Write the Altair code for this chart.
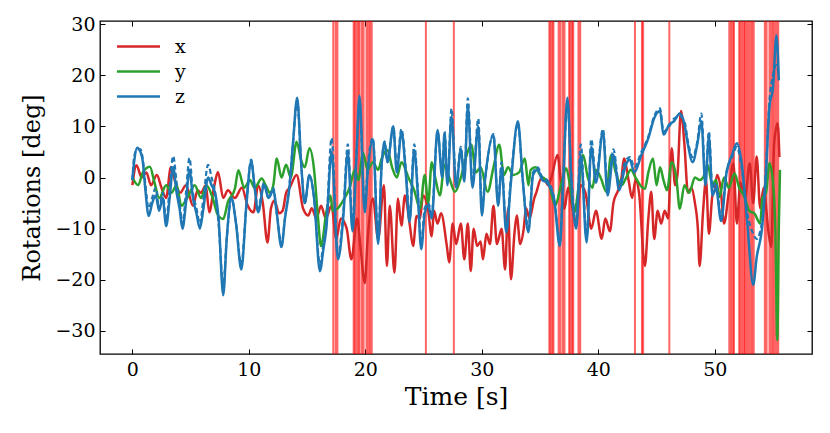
import altair as alt
import pandas as pd

# ---------------- data ----------------
z_t = [0, 0.15, 0.4, 0.7, 0.9, 1.1, 1.4, 1.7, 2.0, 2.3, 2.6, 2.9, 3.2, 3.5, 3.8, 4.05, 4.3, 4.6, 4.9, 5.2,
       5.5, 5.8, 6.1, 6.5, 6.8, 7.1, 7.4, 7.8, 8.1, 8.5, 8.9, 9.35, 9.8, 10.2, 10.5, 10.8, 11.3, 11.7, 12.1, 12.4,
       12.8, 13.1, 13.5, 13.8, 14.15, 14.5, 14.8, 15.2, 15.6, 16.1, 16.4, 16.65, 17.1, 17.65, 18.1, 18.5, 18.9, 19.2, 19.5, 19.95,
       20.2, 20.65, 21.1, 21.4, 21.65, 21.9, 22.4, 22.7, 23.1, 23.5, 23.8, 24.2, 24.5, 24.8, 25.1, 25.4, 25.7, 26.2, 26.6, 26.8,
       27.05, 27.4, 27.8, 28.2, 28.5, 28.8, 29.2, 29.7, 30.0, 30.3, 31.0, 31.4, 31.7, 32.1, 32.5, 33.1, 33.5, 34.0, 34.4, 34.8,
       35.2, 35.6, 36.2, 36.7, 36.95, 37.35, 37.7, 38.1, 38.5, 39.0, 39.4, 39.8, 40.4, 40.8, 41.3, 41.8, 42.3, 42.7, 43.1, 43.7,
       44.3, 44.8, 45.3, 45.6, 46.1, 46.5, 47.0, 47.4, 47.7, 48.1, 48.5, 48.85, 49.2, 49.5, 49.8, 50.1, 50.55, 51.0, 51.5, 51.9,
       52.3, 52.8, 53.3, 53.6, 54.1, 54.4, 54.7, 55.0, 55.3, 55.5]
z_v = [-0.5, 3, 5.8, 5.0, 3, -2, -7.5, -5, -3.5, -6.5, -4, -9.5, -4, 2, -3, -6, -10, -5, 1.5, -4,
       -7, -10, -6, 0, -1.5, -3, -8, -23, -12, -4, -9, -18, -5, 3.2, -2, -6.8, -1.5, -4, -2.5, -7,
       -13.6, -8, -1.6, 7, 15.6, 2.4, -5, 0.5, -4, -18.3, -14, -10, 5, -16, -8, 5, -10.5, 2, 16, -6.8,
       1, 7.5, -13, 2.4, 7, 3, 10, 1, 9, 0, -8.7, 5.4, -3, -14, -7, -5.4, -8, 9.3, 0, 8.7,
       -1.5, 12, -2, 5.6, -0.8, 14, -2, 10, -7.4, 0, 8.3, -5.5, 2, -10.7, -1, 11, 0, -10.7, 0.5, 1.5,
       -0.5, -1, -4.1, -13.4, -3, 15.6, -1, -10, 4.4, -12.7, 6, -1, 9, -3.5, 4.4, -2.5, 2, 3.5, 1, 4.4,
       7.7, 11.6, 13, 8.4, 10.4, 11, 12.5, 10.4, 6.4, 3, 6.5, 11, -1.5, 8, -3.5, -2, -8.5, 0.8, 4.5, 6.7,
       3, -9, -21, -15.6, -9, 1, 14, 17.5, 27.8, 19]
# dashed z (second estimate), same instants
z_dash_v = [-0.5, 4, 5.5, 5.5, 3.5, -1, -6, -4, -2, -6, -3, -8.5, -2, 4.2, -1, -5, -9, -3, 3.8, -3,
            -6, -9, -4, 2.5, 0, -3, -9, -21, -12, -4, -9, -17, -5, 3.5, -2, -6, -1, -4, -2, -7,
            -13, -8, -1, 7, 15, 2.4, -5, 0.5, -4, -17, -13, -9, 7.7, -15, -7, 6.5, -9, 3, 14, -6,
            2, 7.7, -12, 2.4, 7, 3, 10, 2, 9.5, 1, -8, 6.5, -2, -13, -6, -5, -7, 9, 1, 9,
            -1, 13.5, -1, 6, 0, 15.5, -1, 11.5, -6, 0, 8.5, -5, 3, -10, 0, 10.5, 0, -10, 1, 2,
            0, -0.5, -4, -12.5, -2, 14.5, 0, -9, 6.5, -12, 7.5, 0, 9.5, -2, 5.5, -1.5, 3, 4, 2, 5,
            8, 12, 13.5, 9, 10, 11.5, 12, 11, 7, 4, 7, 12.5, 0, 9, -2, -1, -8, 1, 4, 6,
            2, -7, -11, -12, -8, 2, 15, 20, 22, 20]

x_t = [0, 0.35, 0.8, 1.2, 1.6, 2.1, 2.5, 2.9, 3.3, 3.7, 4.1, 4.6, 5.2, 5.6, 5.9, 6.3, 6.6, 7.0, 7.35, 7.8,
       8.2, 8.8, 9.4, 9.9, 10.4, 10.8, 11.2, 11.6, 11.9, 12.2, 12.6, 12.9, 13.2, 13.5, 14.1, 14.65, 15.1, 15.4, 15.8, 16.2,
       16.6, 17.1, 17.5, 17.9, 18.4, 18.8, 19.3, 19.6, 19.95, 20.2, 20.65, 21.1, 21.6, 21.85, 22.1, 22.5, 22.8, 23.1, 23.4, 23.8,
       24.1, 24.4, 24.7, 24.95, 25.4, 25.7, 25.9, 26.2, 26.5, 27.0, 27.2, 27.5, 27.8, 28.2, 28.5, 28.8, 29.05, 29.3, 29.6, 29.9,
       30.1, 30.4, 30.7, 31.0, 31.3, 31.7, 32.0, 32.25, 32.5, 32.8, 33.0, 33.3, 33.6, 33.8, 34.1, 34.5, 34.7, 35.1, 35.4, 35.7,
       36.0, 36.5, 36.8, 37.1, 37.4, 37.7, 38.1, 38.5, 38.9, 39.4, 39.8, 40.3, 40.6, 41.0, 41.3, 41.7, 42.0, 42.2, 42.6, 42.9,
       43.2, 43.5, 44.0, 44.3, 44.55, 44.8, 45.1, 45.4, 45.7, 46.0, 46.3, 46.6, 46.8, 47.1, 47.4, 47.7, 48.0, 48.3, 48.55, 48.7,
       49.0, 49.25, 49.5, 49.8, 50.0, 50.2, 50.5, 50.8, 51.2, 51.6, 51.9, 52.2, 52.6, 53.0, 53.3, 53.6, 53.9, 54.2, 54.6, 54.85,
       55.1, 55.4, 55.55]
x_v = [-1.5, 2.4, 0, 1, -1.5, 0.5, -2, -4, 2, -1, -3, -1.5, -5.5, -2.5, -3, -1.5, -6.8, -2, 1.1, -4,
       -2.5, -4, -2, -5.5, -6.8, -1.5, -5, -12.7, -6, -4.5, -7, -6.5, -3, -2, 0.5, -6, -7.4, -6, -8, -5.5,
       -8, -5.5, -12, -8, -10, -16, -8, -14, -20.6, -12, -4.1, -12, -1.5, -17.3, -5.5, -18.6, -4.1, -9.4, -3.5, -9,
       -13.4, -7.5, -8, -3.5, -6.5, -11.5, -6.5, -9, -7, -13.4, -16.6, -9, -13, -9, -16, -9, -18.3, -10, -13.4, -12.5,
       -16, -11, -13, -5.5, -13, -10, -18, -6.1, -19.9, -11, -7.4, -13, -10, -6, -8, -4.1, -2.8, -0.2, -0.5, -1.5,
       0.2, 4.4, -1, -6.1, -2, -5, -8.7, -1.5, -3, -10, -6.5, -12, -8, -10.5, -5, -2.5, 0, 3.7, -0.5, -4,
       -0.5, -3, -17.3, -8, -2.8, -12, -6.5, -9, -6.5, -8, 5.7, -1.5, 0.5, 13, 6.4, -3, -2, -5, -10, -17.3,
       -6.5, -0.5, -11, -3.5, -2.5, 0.5, -2, -9, -3, 2.8, -9, -1, -4, 2.8, -5, 4.1, -6, -2, -10.4, -13.6,
       6.7, 10.6, 4]

y_t = [0, 0.5, 0.9, 1.5, 1.9, 2.3, 2.9, 3.35, 3.8, 4.2, 4.7, 5.35, 5.9, 6.35, 6.9, 7.35, 7.8, 8.2, 8.8, 9.1,
       9.6, 10.1, 10.5, 11.1, 11.5, 11.8, 12.1, 12.4, 12.8, 13.2, 13.6, 14.1, 14.5, 14.8, 15.2, 15.6, 15.9, 16.2, 16.65, 17.0,
       17.2, 17.65, 18.1, 18.65, 19.1, 19.4, 19.8, 20.2, 20.65, 21.1, 21.4, 21.9, 22.3, 22.7, 23.1, 23.7, 24.2, 24.7, 25.1, 25.4,
       25.7, 26.0, 26.4, 26.8, 27.2, 27.7, 28.2, 28.7, 29.1, 29.5, 29.9, 30.5, 31.0, 31.5, 31.9, 32.25, 32.7, 33.2, 33.7, 34.0,
       34.2, 34.6, 35.0, 35.5, 35.8, 36.3, 36.8, 37.25, 37.6, 37.95, 38.3, 38.7, 39.1, 39.5, 39.8, 40.2, 40.7, 41.1, 41.5, 42.0,
       42.4, 42.8, 43.2, 43.6, 44.0, 44.3, 44.7, 45.0, 45.3, 45.6, 45.9, 46.3, 46.7, 47.0, 47.4, 47.8, 48.3, 48.7, 49.0, 49.4,
       49.8, 50.1, 50.4, 50.8, 51.2, 51.7, 52.1, 52.5, 53.0, 53.4, 53.9, 54.1, 54.4, 54.7, 55.0, 55.2, 55.37, 55.5, 55.6]
y_v = [0, -1.5, 1, 2.1, -1, -4, -1.5, -3, -1.5, -5.5, -4, -1.5, -4, -1.5, -4, -7.4, -8.1, -4.8, -2.2, 1.4,
       -2, -0.5, -2, -0.2, -1.8, -3, -1.5, 3.7, 0, 2.5, 0, 7, 3.3, 2, 5.7, 1.5, -6.8, -13.4, -6.8, -3.5,
       -6.5, -6, -4.5, -2, 1.5, -0.5, 4.8, 1.5, 3, 1.5, 3.7, 5.4, 2, 0, 3, 0, -2.5, -6.1, 0.5, -5,
       3, 0, -3.5, 2.5, 0, -2.8, 0, 4.4, 6.4, 1, 2, -2.8, 2, 6.4, 0.5, 2, 0.5, 1, 3.7, -1.5,
       1.5, 2, 0.5, -0.5, -1.5, -5.5, -1.5, 1.8, -2, -6.8, -2, 4.4, 0, -2, 1.5, 0, -2.8, 4.4, 1, -1.5,
       0, 1.5, 0, -1.5, -2.2, 1, 3.7, -1.5, 2, -0.5, -2.5, 3, 0, -6.1, -1.5, -3, 0, -0.5, 0, 2.4,
       -1.5, -0.5, -3.8, 0, -2, 0.8, -2, -3.5, -6.6, -7, -9, -4, -3, 2.8, -1, -10, -31.8, -10, 1.5]

band_t = [17.25, 17.45, 17.6,
          19.0, 19.1, 19.25, 19.4, 19.5, 19.7, 19.85,
          20.1, 20.25, 20.4, 20.55,
          25.2, 27.6,
          35.8, 35.9, 36.05, 36.15,
          36.6, 36.75, 36.95, 37.1,
          37.5, 37.6, 37.75, 37.85,
          38.3, 38.45,
          43.15, 43.75, 43.85, 46.1,
          51.25, 51.4, 51.55, 51.65,
          52.1, 52.2, 52.35, 52.5, 52.6, 52.75, 52.9, 53.05, 53.2, 53.35,
          54.3, 54.45, 54.7, 54.85, 55.0, 55.15, 55.3, 55.45]

x_ticks = [0, 10, 20, 30, 40, 50]
y_ticks = [-30, -20, -10, 0, 10, 20, 30]
components = ["x", "y", "z"]
comp_colors = ["#d62728", "#2ca02c", "#1f77b4"]

# ---------------- tables ----------------
rows = []
for name, ts, vs in (("x", x_t, x_v), ("y", y_t, y_v), ("z", z_t, z_v)):
    for t, v in zip(ts, vs):
        rows.append({"t": t, "v": v, "comp": name})
df = pd.DataFrame(rows)
df_dash = pd.DataFrame({"t": z_t, "v": z_dash_v, "comp": "z"})
bands = pd.DataFrame({"tb": band_t})

FONT = "DejaVu Serif, Liberation Serif, serif"
W, H = 712, 333
xs = alt.Scale(domain=[-2.78, 58.35], nice=False, zero=False)
ys = alt.Scale(domain=[-34.5, 30.6], nice=False, zero=False)
cs = alt.Scale(domain=components, range=comp_colors)

tick_axis = dict(labels=False, ticks=True, tickSize=5, tickWidth=1, tickColor="black",
                 domain=False, grid=False, title=None)

band_layer = alt.Chart(bands).mark_rule(color="#ff0000", opacity=0.6, strokeWidth=2).encode(
    x=alt.X("tb:Q", scale=xs,
            axis=alt.Axis(orient="bottom", values=x_ticks, ticks=False, domain=False, grid=False,
                          labelFont=FONT, labelFontSize=19, labelColor="black", labelPadding=6,
                          title="Time [s]", titleFont=FONT, titleFontSize=25, titleFontWeight="normal",
                          titleColor="black", titlePadding=5, format="d"))
)

line_layer = alt.Chart(df).mark_line(strokeWidth=2.5, interpolate="monotone").encode(
    x=alt.X("t:Q", scale=xs, axis=alt.Axis(orient="top", offset=-H, values=x_ticks, **tick_axis)),
    y=alt.Y("v:Q", scale=ys,
            axis=alt.Axis(orient="left", values=y_ticks, ticks=False, domain=False, grid=False,
                          labelFont=FONT, labelFontSize=19, labelColor="black", labelPadding=5,
                          title="Rotations [deg]", titleFont=FONT, titleFontSize=24,
                          titleFontWeight="normal", titleColor="black", titlePadding=10, format="d")),
    color=alt.Color("comp:N", scale=cs,
                    legend=alt.Legend(orient="none", legendX=29, legendY=16, title=None,
                                      symbolType="M-4,0H4", symbolSize=116, symbolStrokeWidth=2.5,
                                      labelFont=FONT, labelFontSize=19, labelColor="black",
                                      labelOffset=27, rowPadding=5, padding=0)),
    detail="comp:N",
)

dash_layer = alt.Chart(df_dash).mark_line(strokeWidth=2.2, strokeDash=[5, 3], interpolate="monotone").encode(
    x=alt.X("t:Q", scale=xs, axis=alt.Axis(orient="bottom", offset=-H, values=x_ticks, **tick_axis)),
    y=alt.Y("v:Q", scale=ys, axis=alt.Axis(orient="right", offset=-W, values=y_ticks, **tick_axis)),
    color=alt.Color("comp:N", scale=cs, legend=None),
)

tick_layer = alt.Chart(df).mark_line(opacity=0).encode(
    x=alt.X("t:Q", scale=xs, axis=None),
    y=alt.Y("v:Q", scale=ys, axis=alt.Axis(orient="left", offset=-W, values=y_ticks, **tick_axis)),
    detail="comp:N",
)

chart = alt.layer(band_layer, line_layer, dash_layer, tick_layer).resolve_axis(
    x="independent", y="independent"
).resolve_legend(color="independent").properties(
    width=W, height=H, autosize=alt.AutoSizeParams(type="none"),
    padding={"left": 92, "top": 13, "right": 10, "bottom": 71}, background="white"
).configure_view(stroke="black", strokeWidth=1.3)

chart.save("out.html", embed_options={"renderer": "svg", "actions": False})
